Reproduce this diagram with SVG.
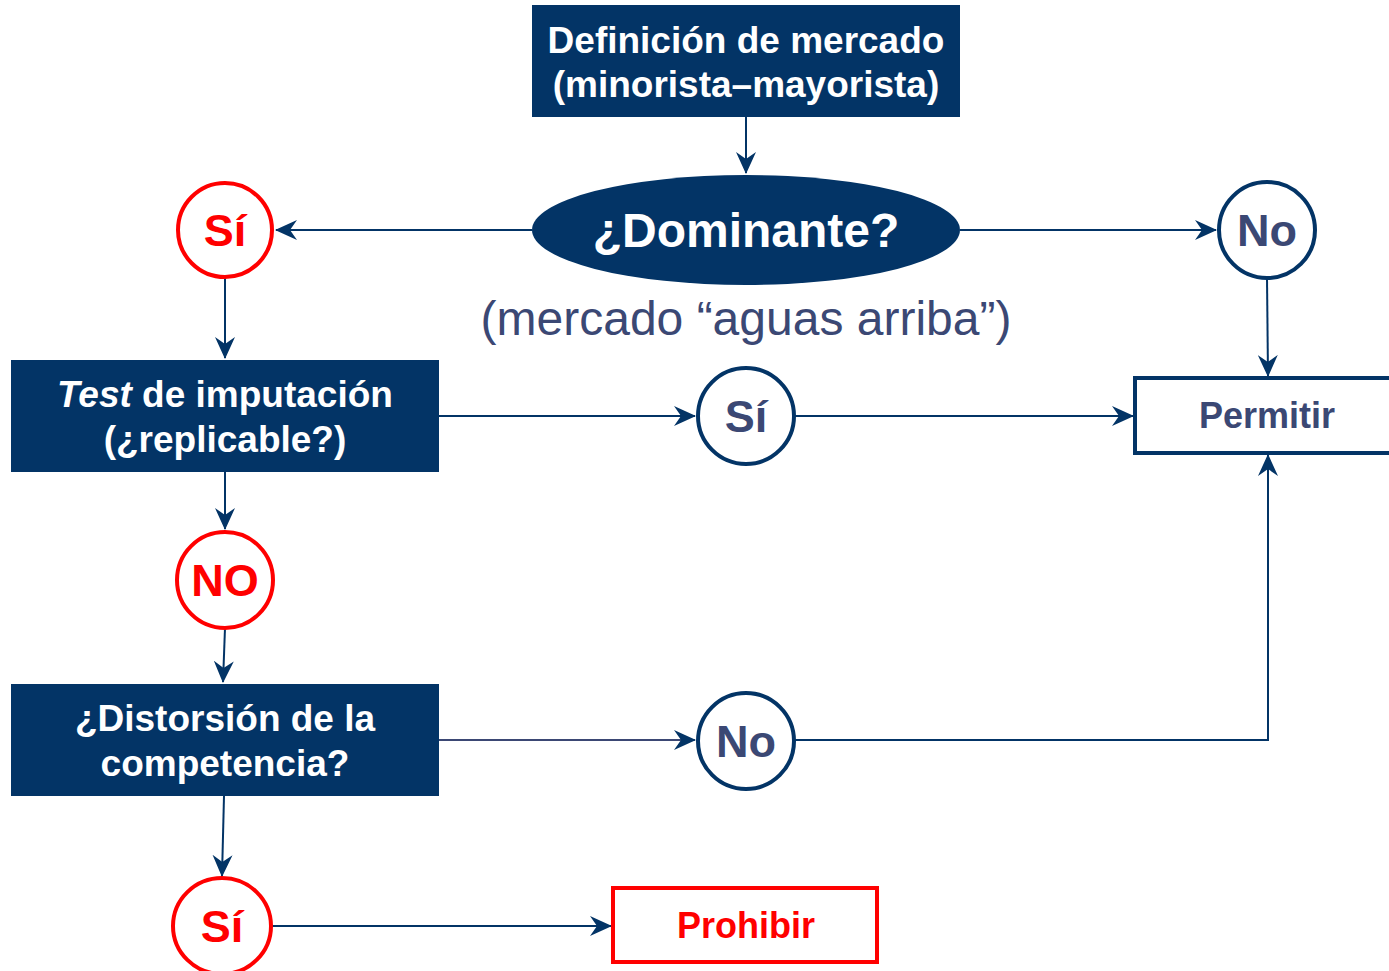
<svg xmlns="http://www.w3.org/2000/svg" width="1389" height="971" viewBox="0 0 1389 971">
<style>
.box{fill:#033466}
.wt{fill:#ffffff;font-family:"Liberation Sans",Arial,sans-serif;font-weight:bold;text-anchor:middle}
.cr{fill:#ffffff;stroke:#ff0000;stroke-width:4}
.cb{fill:#ffffff;stroke:#033466;stroke-width:4}
.rt{fill:#ff0000;font-family:"Liberation Sans",Arial,sans-serif;font-weight:bold;text-anchor:middle}
.bt{fill:#3b4874;font-family:"Liberation Sans",Arial,sans-serif;font-weight:bold;text-anchor:middle}
.con{fill:none;stroke:#033466;stroke-width:2;marker-end:url(#arr)}
</style>
<defs>
<marker id="arr" markerUnits="userSpaceOnUse" markerWidth="22" markerHeight="20" viewBox="0 0 22 20" refX="21" refY="10" orient="auto">
<path d="M0,0 L22,10 L0,20 L7,10 z" fill="#033466"/>
</marker>
</defs>
<g id="connectors">
<path class="con" d="M746,117 L746,173"/>
<path class="con" d="M532,230 L276,230"/>
<path class="con" d="M960,230 L1216,230"/>
<path class="con" d="M225,278 L225,358"/>
<path class="con" d="M1267,278 L1268,376"/>
<path class="con" d="M439,416 L695,416"/>
<path class="con" d="M795,416 L1133,416"/>
<path class="con" d="M225,472 L225,529"/>
<path class="con" d="M225,628 L223,682"/>
<path class="con" d="M439,740 L695,740" style="stroke:#3b4874"/>
<path class="con" d="M795,740 L1268,740 L1268,455"/>
<path class="con" d="M224,796 L222,876"/>
<path class="con" d="M271,926 L611,926"/>
</g>
<g id="n-definicion">
<rect class="box" x="532" y="5" width="428" height="112"/>
<text class="wt" x="746" y="53" font-size="37">Definición de mercado</text>
<text class="wt" x="746" y="97" font-size="37">(minorista–mayorista)</text>
</g>
<g id="n-dominante">
<ellipse class="box" cx="746" cy="230" rx="214" ry="55"/>
<text class="wt" x="746" y="247" font-size="48">¿Dominante?</text>
</g>
<g id="n-aguas">
<text x="746" y="335" font-size="48" fill="#3b4874" text-anchor="middle" font-family="'Liberation Sans',Arial,sans-serif">(mercado “aguas arriba”)</text>
</g>
<g id="n-si1">
<circle class="cr" cx="225" cy="230" r="47"/>
<text class="rt" x="225" y="246" font-size="45">Sí</text>
</g>
<g id="n-no1">
<circle class="cb" cx="1267" cy="230" r="48"/>
<text class="bt" x="1267" y="246" font-size="45">No</text>
</g>
<g id="n-test">
<rect class="box" x="11" y="360" width="428" height="112"/>
<text class="wt" x="225" y="407" font-size="37"><tspan font-style="italic">Test</tspan> de imputación</text>
<text class="wt" x="225" y="452" font-size="37">(¿replicable?)</text>
</g>
<g id="n-si2">
<circle class="cb" cx="746" cy="416" r="48"/>
<text class="bt" x="746" y="432" font-size="45">Sí</text>
</g>
<g id="n-permitir">
<rect x="1135" y="378" width="262" height="75" fill="#ffffff" stroke="#033466" stroke-width="4"/>
<text class="bt" x="1267" y="428" font-size="36">Permitir</text>
</g>
<g id="n-no2">
<circle class="cr" cx="225" cy="580" r="48"/>
<text class="rt" x="225" y="596" font-size="45">NO</text>
</g>
<g id="n-distorsion">
<rect class="box" x="11" y="684" width="428" height="112"/>
<text class="wt" x="225" y="731" font-size="37">¿Distorsión de la</text>
<text class="wt" x="225" y="776" font-size="37">competencia?</text>
</g>
<g id="n-no3">
<circle class="cb" cx="746" cy="741" r="48"/>
<text class="bt" x="746" y="757" font-size="45">No</text>
</g>
<g id="n-si3">
<ellipse class="cr" cx="222" cy="926" rx="49" ry="48"/>
<text class="rt" x="222" y="942" font-size="45">Sí</text>
</g>
<g id="n-prohibir">
<rect x="613" y="888" width="264" height="74" fill="#ffffff" stroke="#ff0000" stroke-width="4"/>
<text class="rt" x="746" y="938" font-size="36">Prohibir</text>
</g>
</svg>
